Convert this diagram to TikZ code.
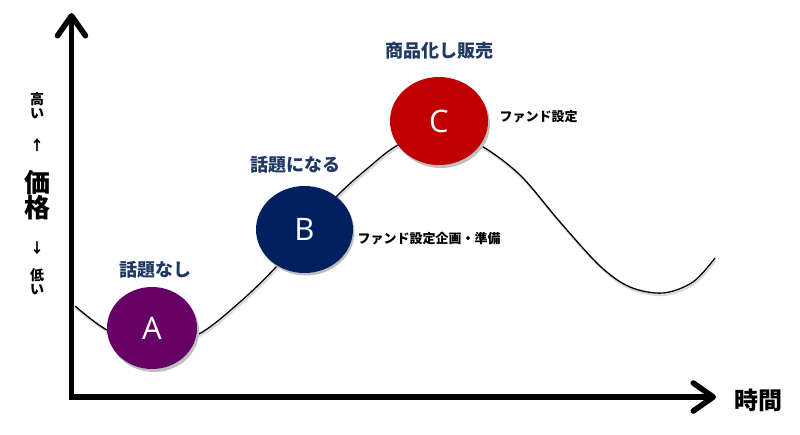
\documentclass[tikz,border=0pt]{standalone}
\usepackage{fontspec}
\setmainfont{Noto Sans CJK JP}
\newfontfamily\latinfont{Open Sans}
\usetikzlibrary{arrows.meta,shapes.geometric}
\definecolor{navytext}{HTML}{1F3864}
\definecolor{colA}{HTML}{660066}
\definecolor{colB}{HTML}{002060}
\definecolor{colC}{HTML}{C00000}
\tikzset{
  blob/.style={ellipse, inner sep=0pt, text=white, font=\latinfont\fontsize{31}{31}\selectfont},
  stagelabel/.style={text=navytext, font=\bfseries\fontsize{18}{18}\selectfont},
  notelabel/.style={text=black, font=\bfseries\fontsize{13}{13}\selectfont, anchor=west},
  sidelabel/.style={text=black, font=\bfseries\fontsize{14}{14}\selectfont, inner sep=0pt},
  bigside/.style={text=black, font=\bfseries\fontsize{26}{26}\selectfont, inner sep=0pt},
  axisline/.style={line width=5.5pt, line join=miter,
    {Straight Barb[length=20pt,width=28pt,line width=5.5pt,round]}-{Straight Barb[length=20pt,width=28pt,line width=5.5pt,round]}},
}
\begin{document}
\begin{tikzpicture}[x=1pt,y=-1pt]
\useasboundingbox (0,0) rectangle (800,434);
% axes (shadow + line)
\coordinate (ytip) at (71.5,13);
\coordinate (origin) at (71.5,397);
\coordinate (xtip) at (716,397);
\draw[axisline, draw=black!20, shift={(2,2)}] (ytip) -- (origin) -- (xtip);
\draw[axisline] (ytip) -- (origin) -- (xtip);
% curve
\def\curvepts{(75,306) (107,330) (150,346) (197,335) (240,302) (277,266) (305,232) (338,195)
  (368,168) (398,145) (440,128) (480,145) (520,175) (560,222) (600,266) (630,287) (663,293) (693,282) (715,258)}
\draw[black!15, line width=2pt, shift={(1,2)}] plot[smooth, tension=0.55] coordinates {\curvepts};
\draw[black, line width=1.3pt] plot[smooth, tension=0.55] coordinates {\curvepts};
% ellipse shadows
\fill[black!25] (154,331) ellipse [x radius=45, y radius=41];
\fill[black!25] (306,232) ellipse [x radius=48.5, y radius=43.5];
\fill[black!25] (441,124) ellipse [x radius=49, y radius=44];
% ellipses
\node[blob, fill=colA, minimum width=90pt, minimum height=82pt] (A) at (152,328) {A};
\node[blob, fill=colB, minimum width=97pt, minimum height=87pt] (B) at (304.5,229.5) {B};
\node[blob, fill=colC, minimum width=98pt, minimum height=88pt] (C) at (439,121) {C};
% stage labels
\node[stagelabel] (la) at (155,270) {話題なし};
\node[stagelabel] (lb) at (295,165) {話題になる};
\node[stagelabel] (lc) at (439,51) {商品化し販売};
% notes
\node[notelabel] (nc) at (496,117) {ファンド設定};
\node[notelabel] (nb) at (354,239) {ファンド設定企画・準備};
% axis labels
\node[text=black, font=\bfseries\fontsize{24}{24}\selectfont] (tx) at (758,400) {時間};
\node[sidelabel] (s1) at (37,99) {高};
\node[sidelabel] (s2) at (37,114) {い};
\node[sidelabel] (s3) at (37,145) {↑};
\node[bigside] (s4) at (37,183) {価};
\node[bigside] (s5) at (37,208) {格};
\node[sidelabel] (s6) at (37,248) {↓};
\node[sidelabel] (s7) at (37,275) {低};
\node[sidelabel] (s8) at (37,290) {い};
\end{tikzpicture}
\end{document}
